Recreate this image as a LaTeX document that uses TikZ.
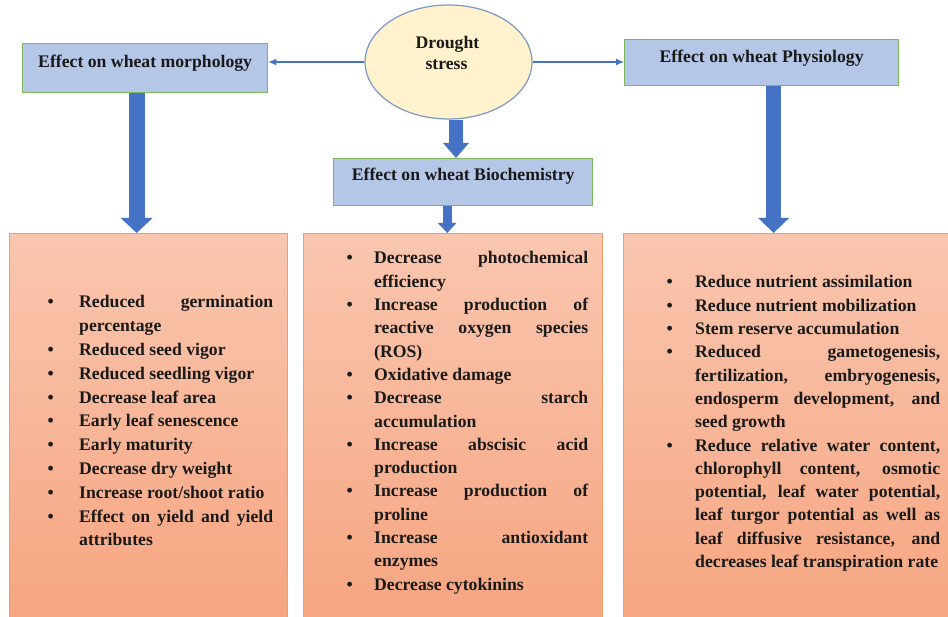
\documentclass[tikz,border=0pt]{standalone}
\usepackage{fontspec}
\setmainfont{Liberation Serif}
\usetikzlibrary{arrows.meta,shapes.geometric}
\definecolor{hdrfill}{HTML}{B4C7E7}
\definecolor{hdrdraw}{HTML}{7FB85A}
\definecolor{arrblue}{HTML}{4472C4}
\definecolor{elfill}{HTML}{FFF2CC}
\definecolor{eldraw}{HTML}{7C98C8}
\definecolor{boxtop}{HTML}{F9C6AF}
\definecolor{boxbot}{HTML}{F6A47F}
\definecolor{boxdraw}{HTML}{EE9C68}
\definecolor{txtcol}{HTML}{1A1A1A}
\newcommand\listsetup{\hyphenpenalty=10000 \exhyphenpenalty=10000 \parskip=0pt \parindent=0pt\relax}
\newcommand\myitem[2][33pt]{\noindent\hangindent=#1\relax\hangafter=1\relax\makebox[#1][l]{\hspace{1.5pt}\textbullet}#2\par}
\begin{document}
\begin{tikzpicture}[x=1pt,y=-1pt,
  hdr/.style={draw=hdrdraw, line width=1.3pt, fill=hdrfill, rectangle, inner sep=0pt, anchor=north west, font=\fontsize{17.7pt}{21pt}\selectfont\bfseries, text=txtcol},
  outbox/.style={draw=boxdraw, line width=1.4pt, top color=boxtop, bottom color=boxbot, rectangle, inner sep=0pt, anchor=north west, minimum height=400pt},
  lst/.style={anchor=base west, inner sep=0pt, align=justify, text=txtcol, font=\fontsize{17.7pt}{23.3pt}\selectfont\bfseries},
  eltext/.style={anchor=base, inner sep=0pt, text=txtcol, font=\fontsize{17.7pt}{21pt}\selectfont\bfseries},
  connarrow/.style={draw=arrblue, line width=1.2pt, -{Latex[length=8pt,width=7pt]}},
  fatarrow/.style={draw=arrblue}]
\useasboundingbox[fill=white] (0,0) rectangle (948,617);
% bottom boxes
\node[outbox, minimum width=278pt] (lbox) at (9,233) {};
\node[outbox, minimum width=299pt] (mbox) at (303,233) {};
\node[outbox, minimum width=340pt] (rbox) at (623,233) {};
% headers
\node[hdr, minimum width=245pt, text height=24pt, text depth=25pt] (morph) at (22,43) {Effect on wheat morphology};
\node[hdr, minimum width=274pt, text height=23pt, text depth=23pt] (phys) at (624,39) {Effect on wheat Physiology};
\node[hdr, minimum width=259pt, text height=22pt, text depth=25pt] (bio) at (333,158) {Effect on wheat Biochemistry};
% ellipse
\node[ellipse, draw=eldraw, fill=elfill, line width=1.2pt, minimum width=167pt, minimum height=114pt, inner sep=0pt] (drought) at (448.5,62) {};
\node[eltext] (dt1) at (447.5,49) {Drought};
\node[eltext] (dt2) at (446.5,70) {stress};
% thin connectors
\draw[connarrow] (drought.west) -- (drought.west -| morph.east);
\draw[connarrow] (drought.east) -- (drought.east -| phys.west);
% fat arrows
\draw[fatarrow, line width=16pt, -{Triangle[width=31pt,length=15pt]}] ([xshift=-8.5pt]morph.south) -- ([xshift=-8.5pt]morph.south |- lbox.north);
\draw[fatarrow, line width=14pt, -{Triangle[width=25pt,length=15pt]}] ([xshift=7.5pt]drought.south) -- ([xshift=7.5pt]drought.south |- bio.north);
\draw[fatarrow, line width=9pt, -{Triangle[width=18pt,length=10pt]}] ([xshift=-16pt]bio.south) -- ([xshift=-16pt]bio.south |- mbox.north);
\draw[fatarrow, line width=15pt, -{Triangle[width=30pt,length=15pt]}] ([xshift=12pt]phys.south) -- ([xshift=12pt]phys.south |- rbox.north);
% lists
\node[lst, text width=227pt, font=\fontsize{17.7pt}{23.8pt}\selectfont\bfseries] (ltext) at (46,308) {\listsetup
\myitem{Reduced germination\linebreak percentage}
\myitem{Reduced seed vigor}
\myitem{Reduced seedling vigor}
\myitem{Decrease leaf area}
\myitem{Early leaf senescence}
\myitem{Early maturity}
\myitem{Decrease dry weight}
\myitem{Increase root/shoot ratio}
\myitem{Effect on yield and yield\linebreak attributes}};
\node[lst, text width=243pt] (mtext) at (345,264) {\listsetup
\myitem[29pt]{Decrease photochemical\linebreak efficiency}
\myitem[29pt]{Increase production of\linebreak reactive oxygen species\linebreak (ROS)}
\myitem[29pt]{Oxidative damage}
\myitem[29pt]{Decrease starch\linebreak accumulation}
\myitem[29pt]{Increase abscisic acid\linebreak production}
\myitem[29pt]{Increase production of\linebreak proline}
\myitem[29pt]{Increase antioxidant\linebreak enzymes}
\myitem[29pt]{Decrease cytokinins}};
\node[lst, text width=275pt] (rtext) at (665,288) {\listsetup
\myitem[30pt]{Reduce nutrient assimilation}
\myitem[30pt]{Reduce nutrient mobilization}
\myitem[30pt]{Stem reserve accumulation}
\myitem[30pt]{Reduced gametogenesis,\linebreak fertilization, embryogenesis,\linebreak endosperm development, and\linebreak seed growth}
\myitem[30pt]{Reduce relative water content,\linebreak chlorophyll content, osmotic\linebreak potential, leaf water potential,\linebreak leaf turgor potential as well as\linebreak leaf diffusive resistance, and\linebreak decreases leaf transpiration rate}};
\end{tikzpicture}
\end{document}
